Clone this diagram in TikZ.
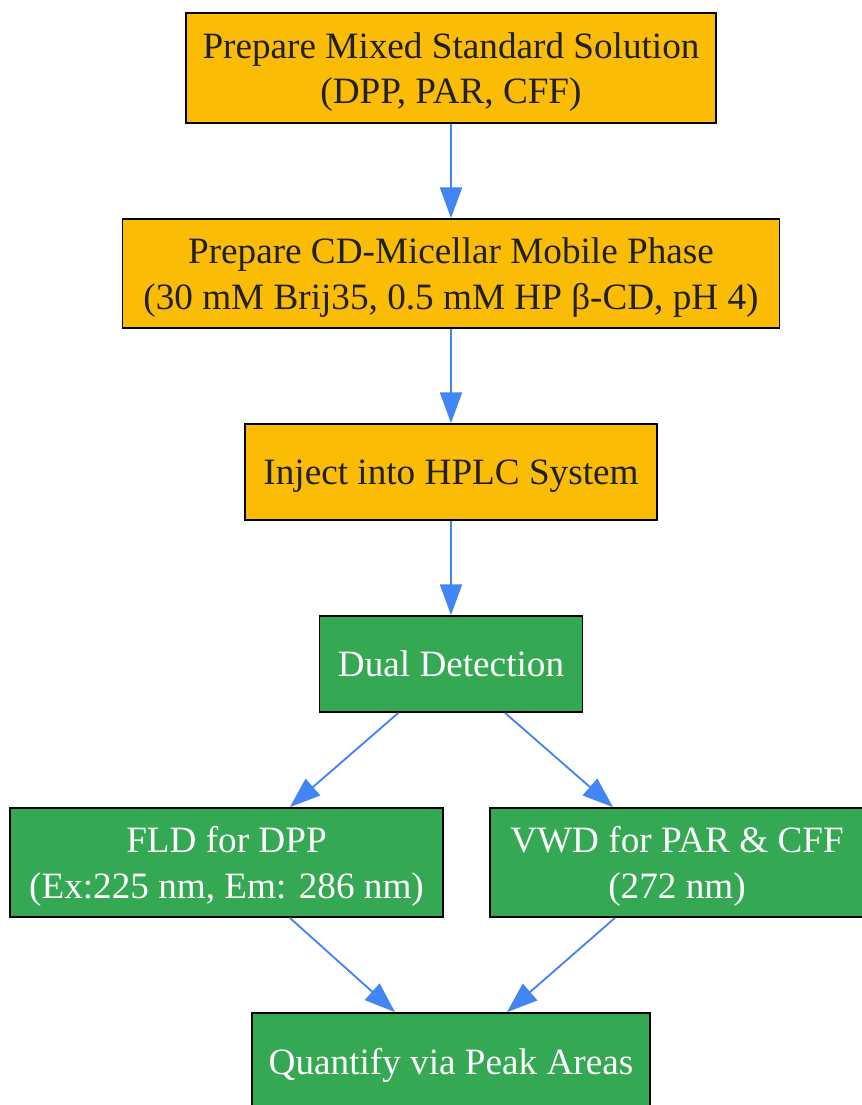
\documentclass[tikz,border=0pt]{standalone}
\usepackage{fontspec}
\setmainfont{Liberation Serif}
\usepackage{tikz}
\usetikzlibrary{arrows.meta}
\definecolor{stepyellow}{HTML}{FBBC05}
\definecolor{stepgreen}{HTML}{34A853}
\definecolor{flowblue}{HTML}{4285F4}
\definecolor{darktext}{HTML}{202124}

\begin{document}
\begin{tikzpicture}[x=0.75pt, y=-0.75pt,
        box/.style={draw=black, line width=1.3pt, inner sep=0pt, align=center, text depth=0pt,
            font=\fontsize{27.9}{34}\selectfont},
        prepbox/.style={box, fill=stepyellow, text=darktext},
        detbox/.style={box, fill=stepgreen, text=white},
        flow/.style={-{Triangle[length=23pt, width=16.5pt]}, draw=flowblue, line width=1.4pt}]
            \pgfmathsetmacro{\leftCol}{226.5}
            \pgfmathsetmacro{\midCol}{451}
            \pgfmathsetmacro{\rightCol}{677}

            \useasboundingbox (0, 0) rectangle (861, 1105);

            % preparation steps
            \node[prepbox, minimum width=397.5pt, minimum height=82.5pt] (mix) at (\midCol, 68) {Prepare Mixed Standard Solution\\(DPP, PAR, CFF)};
            \node[prepbox, minimum width=492.75pt, minimum height=81.75pt] (phase) at (\midCol, 273.5) {Prepare CD-Micellar Mobile Phase\\(30 mM Brij35, 0.5 mM HP β-CD, pH 4)};
            \node[prepbox, minimum width=309pt, minimum height=72pt] (inject) at (\midCol, 472) {Inject into HPLC System};

            % detection steps
            \node[detbox, minimum width=197.25pt, minimum height=72pt] (dual) at (\midCol, 664) {Dual Detection};
            \node[detbox, minimum width=324.75pt, minimum height=81.75pt] (fld) at (\leftCol, 862.5) {FLD for DPP\\(Ex:225 nm, Em: 286 nm)};
            \node[detbox, minimum width=280.5pt, minimum height=81.75pt] (vwd) at (\rightCol, 862.5) {VWD for PAR \& CFF\\(272 nm)};
            \node[detbox, minimum width=298.5pt, minimum height=72pt] (quant) at (\midCol, 1061) {Quantify via Peak Areas};

            % straight steps down the middle
            \foreach \a/\b in {mix/phase, phase/inject, inject/dual}
            \draw[flow] (\a.south) -- (\b.north);

            % split into the two detectors
            \draw[flow] ([xshift=-39.5pt]dual.south) -- ([xshift=47.5pt]fld.north);
            \draw[flow] ([xshift=40.5pt]dual.south) -- ([xshift=-48pt]vwd.north);

            % join again for quantification
            \draw[flow] ([xshift=47.5pt]fld.south) -- ([xshift=-42pt]quant.north);
            \draw[flow] ([xshift=-46.5pt]vwd.south) -- ([xshift=42pt]quant.north);
        \end{tikzpicture}
\end{document}
